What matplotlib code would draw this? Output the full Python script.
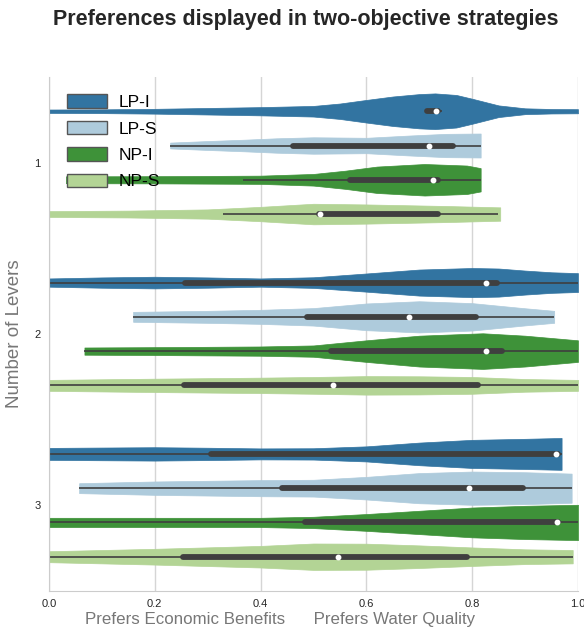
import numpy as np
import matplotlib.pyplot as plt
from matplotlib.patches import Patch

plt.rcParams['font.family'] = ['Liberation Sans', 'DejaVu Sans']

levers = ['1', '2', '3']
strategies = ['LP-I', 'LP-S', 'NP-I', 'NP-S']
colors = ['#3274a1', '#aecbdc', '#3e9239', '#b3d495']

# violin outlines: x positions and relative half-widths (1.0 = full slot)
lpi_x = [[0, 0.1, 0.2, 0.3, 0.4, 0.5, 0.55, 0.6, 0.65, 0.7, 0.73, 0.77, 0.8, 0.85, 0.9, 0.95, 1.0],
         [0, 0.1, 0.2, 0.3, 0.4, 0.5, 0.6, 0.7, 0.8, 0.85, 0.9, 0.95, 1.0],
         [0, 0.1, 0.2, 0.3, 0.4, 0.5, 0.6, 0.7, 0.8, 0.9, 0.969]]
lpi_w = [[0.1, 0.11, 0.14, 0.19, 0.24, 0.31, 0.45, 0.66, 0.86, 1.0, 1.04, 0.95, 0.73, 0.34, 0.17, 0.13, 0.12],
         [0.24, 0.3, 0.34, 0.3, 0.24, 0.31, 0.53, 0.76, 0.85, 0.82, 0.7, 0.6, 0.55],
         [0.35, 0.37, 0.39, 0.36, 0.32, 0.33, 0.44, 0.66, 0.82, 0.88, 0.93]]

lps_x = [[0.229, 0.3, 0.37, 0.43, 0.5, 0.6, 0.68, 0.75, 0.816],
         [0.159, 0.3, 0.4, 0.5, 0.6, 0.7, 0.8, 0.9, 0.955],
         [0.057, 0.2, 0.4, 0.5, 0.6, 0.7, 0.8, 0.9, 0.988]]
lps_w = [[0.17, 0.26, 0.34, 0.42, 0.48, 0.45, 0.58, 0.68, 0.70],
         [0.29, 0.35, 0.41, 0.51, 0.78, 0.91, 0.8, 0.5, 0.35],
         [0.29, 0.39, 0.47, 0.49, 0.66, 0.88, 0.97, 0.93, 0.85]]

npi_x = [[0.032, 0.2, 0.4, 0.5, 0.56, 0.62, 0.71, 0.79, 0.816],
         [0.067, 0.2, 0.4, 0.5, 0.6, 0.7, 0.82, 0.9, 1.0],
         [0, 0.2, 0.4, 0.5, 0.6, 0.7, 0.8, 0.9, 1.0]]
npi_w = [[0.2, 0.21, 0.24, 0.34, 0.53, 0.77, 0.92, 0.83, 0.68],
         [0.21, 0.23, 0.27, 0.33, 0.63, 0.9, 1.04, 0.9, 0.63],
         [0.27, 0.27, 0.27, 0.33, 0.49, 0.68, 0.87, 0.97, 1.03]]

nps_x = [[0, 0.15, 0.3, 0.4, 0.5, 0.6, 0.75, 0.853],
         [0, 0.2, 0.4, 0.5, 0.6, 0.7, 0.8, 0.9, 1.0],
         [0, 0.2, 0.4, 0.5, 0.6, 0.7, 0.8, 0.9, 0.99]]
nps_w = [[0.17, 0.2, 0.27, 0.42, 0.6, 0.56, 0.47, 0.39],
         [0.32, 0.39, 0.45, 0.49, 0.54, 0.53, 0.49, 0.37, 0.32],
         [0.32, 0.46, 0.63, 0.77, 0.76, 0.66, 0.54, 0.43, 0.39]]

# box stats per strategy, one value per lever count
q1 = [[0.714, 0.257, 0.306], [0.461, 0.487, 0.44], [0.569, 0.534, 0.484], [0.51, 0.255, 0.254]]
median = [[0.731, 0.826, 0.958], [0.718, 0.681, 0.794], [0.725, 0.826, 0.96], [0.512, 0.537, 0.546]]
q3 = [[0.736, 0.846, 0.962], [0.764, 0.808, 0.897], [0.736, 0.856, 0.962], [0.736, 0.811, 0.79]]
whisker_lo = [[0.712, 0.0, 0.0], [0.229, 0.159, 0.057], [0.367, 0.067, 0.0], [0.329, 0.0, 0.0]]
whisker_hi = [[0.742, 1.0, 0.969], [0.816, 0.955, 0.988], [0.816, 1.0, 1.0], [0.849, 1.0, 0.99]]

outline_x = [lpi_x, lps_x, npi_x, nps_x]
outline_w = [lpi_w, lps_w, npi_w, nps_w]
offsets = [-0.3, -0.1, 0.1, 0.3]

fig = plt.figure(figsize=(5.84, 6.33), dpi=100)
ax = fig.add_axes([0.0839, 0.0664, 0.9058, 0.812])

for s, strat in enumerate(strategies):
    for i in range(len(levers)):
        pos = i + offsets[s]
        xs = np.array(outline_x[s][i])
        ws = np.array(outline_w[s][i])
        stats = [{'coords': xs, 'vals': ws, 'mean': median[s][i], 'median': median[s][i],
                  'min': xs.min(), 'max': xs.max()}]
        parts = ax.violin(stats, positions=[pos], widths=[0.2 * ws.max()],
                          orientation='horizontal', showmeans=False,
                          showextrema=False, showmedians=False)
        for b in parts['bodies']:
            b.set_facecolor(colors[s])
            b.set_edgecolor(colors[s])
            b.set_linewidth(0.5)
            b.set_alpha(1)
        ax.hlines(pos, whisker_lo[s][i], whisker_hi[s][i], color='#3f3f3f', lw=1.2, zorder=2)
        ax.plot([q1[s][i], q3[s][i]], [pos, pos], color='#3f3f3f', lw=4.2,
                solid_capstyle='round', zorder=3)
        ax.plot(median[s][i], pos, 'o', color='white', markersize=3.2, zorder=4)

ax.set_xlim(0, 1)
ax.set_ylim(2.5, -0.5)
ax.set_yticks(range(len(levers)))
ax.set_yticklabels(levers)
ax.set_xticks([0, 0.2, 0.4, 0.6, 0.8, 1.0])
ax.tick_params(length=0, labelsize=8, labelcolor='#262626', pad=6)
ax.grid(axis='x', color='#d5d5d5', lw=1)
ax.set_axisbelow(True)
for side in ['top', 'right']:
    ax.spines[side].set_visible(False)
for side in ['left', 'bottom']:
    ax.spines[side].set_color('#cccccc')

ax.set_xlabel('Prefers Economic Benefits      Prefers Water Quality', fontsize=12.2, color='#777777')
ax.xaxis.set_label_coords(0.437, -0.04)
ax.set_ylabel('Number of Levers', fontsize=13.5, color='#777777')
ax.yaxis.set_label_coords(-0.05, 0.5)

handles = [Patch(facecolor=c, edgecolor='#555555', linewidth=1, label=s)
           for c, s in zip(colors, strategies)]
ax.legend(handles=handles, loc='upper left', bbox_to_anchor=(0.034, 0.966), frameon=False,
          fontsize=12.5, handlelength=2.3, handleheight=0.8, labelspacing=0.62,
          handletextpad=0.7, borderpad=0, borderaxespad=0)

fig.text(0.523, 0.969, 'Preferences displayed in two-objective strategies', ha='center', va='center',
         fontsize=15.5, fontweight='bold', color='#262626')

plt.savefig('out.png', dpi=100)
